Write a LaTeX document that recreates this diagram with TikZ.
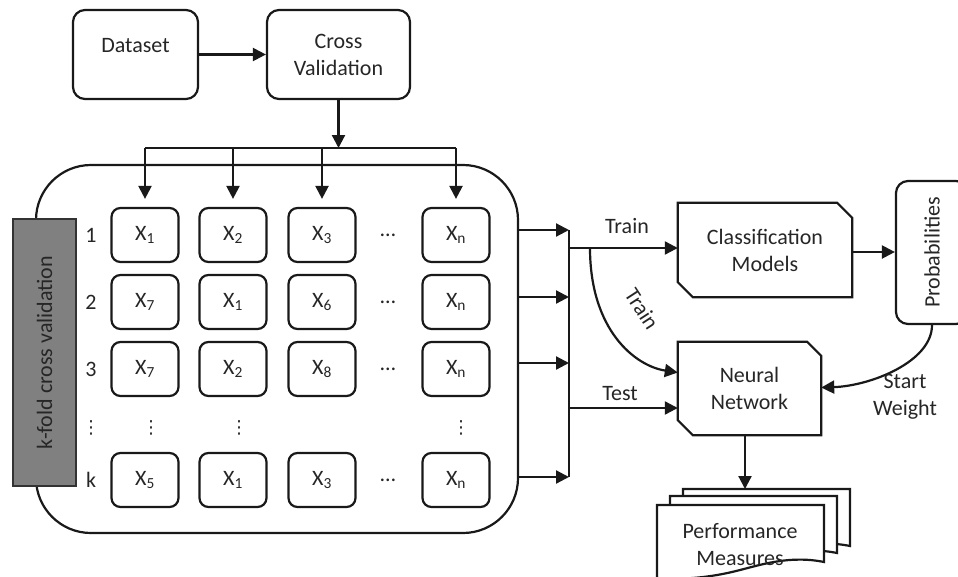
\documentclass[tikz,border=0pt]{standalone}
\usepackage{fontspec}
\setmainfont{Carlito}
\newfontfamily\djv{DejaVu Sans}
\usetikzlibrary{arrows.meta}
\begin{document}
\begin{tikzpicture}[x=1pt,y=-1pt,
  base/.style={font=\fontsize{22}{27}\selectfont, text=black!85, align=center, inner sep=0pt},
  ln/.style={line width=2.2pt, draw=black!90},
  rbox/.style={base, ln, draw, rounded corners=12pt},
  cell/.style={base, ln, draw, rounded corners=9pt, minimum width=67pt, minimum height=54pt},
  plain/.style={base},
  arr/.style={ln, -{Triangle[length=13pt,width=13pt]}},
  docpic/.pic={\draw[ln, fill=white] (0,0) -- (167,0) -- (167,57) .. controls (133,50) and (103,60) .. (83,65) .. controls (53,73) and (23,75) .. (0,73) -- cycle;}
]
\useasboundingbox (0,0) rectangle (958,576);
\clip (0,0) rectangle (958,576);

% top boxes
\node[rbox, minimum width=125pt, minimum height=89pt] (ds) at (135.5,54.5) {Dataset\\[-8pt]\mbox{}};
\node[rbox, minimum width=143pt, minimum height=89pt] (cv) at (338.5,54.5) {Cross\\Validation};
\draw[arr] (ds.east) -- (cv.west);

% big container
\node[ln, draw, rounded corners=55pt, minimum width=482pt, minimum height=368pt] (kbox) at (277,349) {};
\node[base, draw=black!80, line width=1.6pt, fill=black!50, minimum width=63pt, minimum height=267pt] (kf) at (44.5,352.5) {\rotatebox{90}{k-fold cross validation}};

% cells
\foreach \r/\y/\a/\b/\c/\lab in {1/235/1/2/3/1, 2/302/7/1/6/2, 3/369/7/2/8/3, 4/480/5/1/3/k}{
  \node[base] (rl\r) at (91,\y) {\lab};
  \node[cell] (c\r1) at (145,\y) {X\textsubscript{\a}};
  \node[cell] (c\r2) at (233,\y) {X\textsubscript{\b}};
  \node[cell] (c\r3) at (322,\y) {X\textsubscript{\c}};
  \node[base] (dd\r) at (388,\y) {\dots};
  \node[cell] (c\r4) at (456,\y) {X\textsubscript{n}};
}
\foreach \x/\n in {91/a,151/b,239/c,461/d}{
  \node[base, font=\djv\fontsize{18}{20}\selectfont] (vd\n) at (\x,428) {⋮};
}

% distribution from cross validation
\coordinate (busl) at (145,148);
\coordinate (busr) at (456,148);
\draw[arr] (cv.south) -- (cv.south |- busl);
\draw[ln] (busl) -- (busr);
\foreach \k in {1,2,3,4}{
  \draw[arr] (c1\k.north |- busl) -- ([yshift=8pt]c1\k.north);
}

% right collector
\coordinate (bt) at (569,230);
\coordinate (bb) at (569,477);
\draw[ln] (bt) -- (bb);
\foreach \yy in {230,297,363,477}{
  \coordinate (o\yy) at (569,\yy);
  \draw[arr] (kbox.east |- o\yy) -- (o\yy);
}

% classification and neural network
\node[plain, minimum width=174pt, minimum height=94pt] (cm) at (765,250) {Classification\\Models};
\draw[ln] (cm.north west) -- ([xshift=-15pt]cm.north east) -- ([yshift=-15pt]cm.north east) -- (cm.south east) -- ([xshift=15pt]cm.south west) -- ([yshift=15pt]cm.south west) -- cycle;
\node[plain, minimum width=143pt, minimum height=93pt] (nn) at (749.5,388.5) {Neural\\Network};
\draw[ln] (nn.north west) -- ([xshift=-14pt]nn.north east) -- ([yshift=-14pt]nn.north east) -- (nn.south east) -- ([xshift=15pt]nn.south west) -- ([yshift=15pt]nn.south west) -- cycle;

\node[rbox, minimum width=72pt, minimum height=143pt] (prob) at (932,252.5) {\rotatebox{90}{Probabilities}};

\coordinate (tr0) at (569,248);
\coordinate (tr1) at (590,248);
\draw[arr] (tr0) -- (tr0 -| cm.west);
\node[base] (lt1) at (627,226) {Train};
\draw[arr] (tr1) .. controls (590,330) and (635,366) .. ([yshift=16pt]nn.west);
\node[base, rotate=-57] (lt2) at (642,309) {Train};
\coordinate (te0) at (569,408);
\draw[arr] (te0) -- (te0 -| nn.west);
\node[base] (lte) at (620,394) {Test};

\draw[arr] (cm.east |- 0,252) -- (prob.west |- 0,252);
\draw[arr] (prob.south) .. controls (932,362) and (870,386) .. ([yshift=1pt]nn.east);
\node[base] (lsw) at (905,397) {Start\\Weight};

% performance measures
\pic at (683,489) {docpic};
\pic at (670,496) {docpic};
\pic at (657,505) {docpic};
\coordinate (pmtop) at (745,489);
\draw[arr] (nn.south -| pmtop) -- (pmtop);
\node[base] (pm) at (740,545) {Performance\\Measures};
\end{tikzpicture}
\end{document}
